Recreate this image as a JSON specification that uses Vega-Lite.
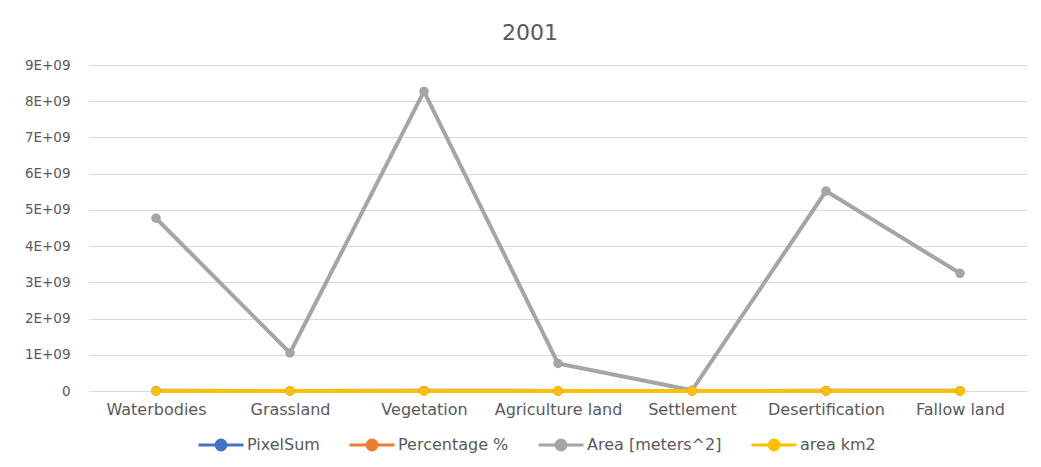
{
  "$schema": "https://vega.github.io/schema/vega-lite/v6.json",
  "width": 938,
  "height": 326,
  "autosize": {"type": "none"},
  "padding": {"left": 89, "top": 65, "right": 14, "bottom": 76},
  "background": "white",
  "title": {"text": "2001", "fontSize": 22, "font": "DejaVu Sans", "fontWeight": "normal", "color": "#595959", "offset": 13, "dx": -28},
  "data": {"values": [
    {"cat": "Waterbodies", "series": "PixelSum", "value": 5300000},
    {"cat": "Grassland", "series": "PixelSum", "value": 1166667},
    {"cat": "Vegetation", "series": "PixelSum", "value": 9188889},
    {"cat": "Agriculture land", "series": "PixelSum", "value": 844444},
    {"cat": "Settlement", "series": "PixelSum", "value": 22222},
    {"cat": "Desertification", "series": "PixelSum", "value": 6133333},
    {"cat": "Fallow land", "series": "PixelSum", "value": 3611111},
    {"cat": "Waterbodies", "series": "Percentage %", "value": 20.2},
    {"cat": "Grassland", "series": "Percentage %", "value": 4.4},
    {"cat": "Vegetation", "series": "Percentage %", "value": 35.0},
    {"cat": "Agriculture land", "series": "Percentage %", "value": 3.2},
    {"cat": "Settlement", "series": "Percentage %", "value": 0.1},
    {"cat": "Desertification", "series": "Percentage %", "value": 23.4},
    {"cat": "Fallow land", "series": "Percentage %", "value": 13.7},
    {"cat": "Waterbodies", "series": "Area [meters^2]", "value": 4770000000},
    {"cat": "Grassland", "series": "Area [meters^2]", "value": 1050000000},
    {"cat": "Vegetation", "series": "Area [meters^2]", "value": 8270000000},
    {"cat": "Agriculture land", "series": "Area [meters^2]", "value": 760000000},
    {"cat": "Settlement", "series": "Area [meters^2]", "value": 20000000},
    {"cat": "Desertification", "series": "Area [meters^2]", "value": 5520000000},
    {"cat": "Fallow land", "series": "Area [meters^2]", "value": 3250000000},
    {"cat": "Waterbodies", "series": "area km2", "value": 4770},
    {"cat": "Grassland", "series": "area km2", "value": 1050},
    {"cat": "Vegetation", "series": "area km2", "value": 8270},
    {"cat": "Agriculture land", "series": "area km2", "value": 760},
    {"cat": "Settlement", "series": "area km2", "value": 20},
    {"cat": "Desertification", "series": "area km2", "value": 5520},
    {"cat": "Fallow land", "series": "area km2", "value": 3250}
  ]},
  "encoding": {
    "x": {"field": "cat", "type": "nominal", "sort": null,
      "scale": {"type": "point", "padding": 0.5},
      "axis": {"title": null, "labelAngle": 0, "ticks": false, "domain": true, "domainColor": "#d9d9d9", "domainWidth": 1,
        "labelFont": "DejaVu Sans", "labelFontSize": 16, "labelColor": "#595959", "labelPadding": 10, "grid": false}},
    "y": {"field": "value", "type": "quantitative",
      "scale": {"domain": [0, 9000000000], "nice": false, "zero": true},
      "axis": {"title": null, "values": [0, 1000000000, 2000000000, 3000000000, 4000000000, 5000000000, 6000000000, 7000000000, 8000000000, 9000000000],
        "labelExpr": "datum.value == 0 ? '0' : format(datum.value / 1e9, 'd') + 'E+09'",
        "ticks": false, "domain": false, "grid": true, "gridColor": "#d9d9d9", "gridWidth": 1,
        "labelFont": "DejaVu Sans", "labelFontSize": 13.5, "labelColor": "#595959", "labelPadding": 19}},
    "color": {"field": "series", "type": "nominal",
      "scale": {"domain": ["PixelSum", "Percentage %", "Area [meters^2]", "area km2"], "range": ["#4472C4", "#ED7D31", "#A5A5A5", "#FFC000"]},
      "legend": {"title": null, "orient": "none", "legendX": 108, "legendY": 356, "direction": "horizontal",
        "symbolType": "M-1,0L1,0M-0.22,0A0.22,0.22 0 1,0 0.22,0A0.22,0.22 0 1,0 -0.22,0Z",
        "symbolSize": 2025, "symbolStrokeWidth": 3, "labelFont": "DejaVu Sans", "labelFontSize": 16, "labelColor": "#595959",
        "columnPadding": 23, "labelOffset": 2,
        "encode": {"symbols": {"update": {"fill": {"scale": "color", "field": "value"}, "stroke": {"scale": "color", "field": "value"}, "strokeWidth": {"value": 3}, "opacity": {"value": 1}}}}}}
  },
  "layer": [
    {"mark": {"type": "line", "strokeWidth": 4}},
    {"mark": {"type": "point", "filled": true, "size": 90, "opacity": 1}}
  ],
  "config": {"view": {"stroke": null}}
}
